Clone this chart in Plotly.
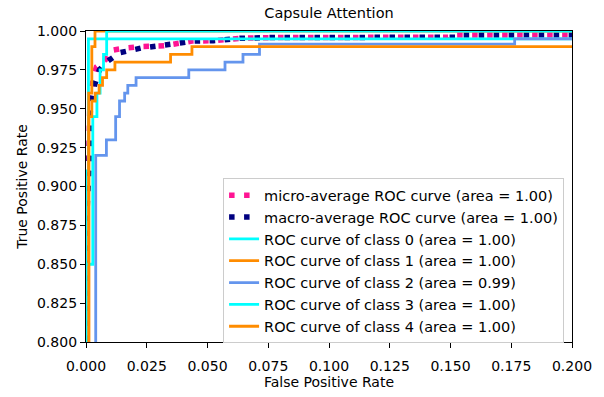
import plotly.graph_objects as go

# ---- data ----
micro_fpr = [0, 0, 0.0012, 0.0016, 0.003, 0.0043, 0.0084, 0.0104, 0.0159, 0.0226, 0.0321, 0.0375, 0.0436, 0.0524, 0.0633, 0.0768, 0.149, 0.150, 0.25]
micro_tpr = [0, 0.88, 0.92, 0.955, 0.970, 0.977, 0.982, 0.9875, 0.989, 0.990, 0.9905, 0.992, 0.9935, 0.9937, 0.9953, 0.9958, 0.996, 0.9974, 0.9976]

macro_fpr = [0, 0, 0.0012, 0.0018, 0.0035, 0.0055, 0.0084, 0.0138, 0.0226, 0.0321, 0.0375, 0.0436, 0.0524, 0.0633, 0.0768, 0.153, 0.154, 0.25]
macro_tpr = [0, 0.87, 0.91, 0.950, 0.965, 0.975, 0.980, 0.986, 0.989, 0.9905, 0.992, 0.9935, 0.9937, 0.9953, 0.9958, 0.996, 0.9974, 0.9976]

class0_fpr = [0, 0, 0.001, 0.001, 0.25, 0.25, 1]
class0_tpr = [0, 0.91, 0.91, 0.995, 0.995, 1.0, 1.0]

class1_fpr = [0, 0.0011, 0.0011, 0.0024, 0.0024, 0.0037, 0.0037, 1]
class1_tpr = [0, 0, 0.96, 0.96, 0.99, 0.99, 1.0, 1.0]

class2_fpr = [0, 0.004, 0.004, 0.0084, 0.0084, 0.0122, 0.0122, 0.0138, 0.0138, 0.0159, 0.0159,
              0.0172, 0.0172, 0.0206, 0.0206, 0.0423, 0.0423, 0.0572, 0.0572, 0.0646, 0.0646,
              0.0714, 0.0714, 0.1764, 0.1764, 0.25]
class2_tpr = [0, 0, 0.92, 0.92, 0.93, 0.93, 0.945, 0.945, 0.955, 0.955, 0.96,
              0.96, 0.965, 0.965, 0.97, 0.97, 0.975, 0.975, 0.98, 0.98, 0.985,
              0.985, 0.9915, 0.9915, 0.995, 0.995]

class3_fpr = [0, 0, 0.0028, 0.0028, 0.0045, 0.0045, 0.0058, 0.0058, 0.0072, 0.0072, 0.0085, 0.0085, 1]
class3_tpr = [0, 0.85, 0.85, 0.945, 0.945, 0.96, 0.96, 0.975, 0.975, 0.985, 0.985, 1.0, 1.0]

class4_fpr = [0, 0.0012, 0.0012, 0.0024, 0.0024, 0.0038, 0.0038, 0.0054, 0.0054, 0.0068, 0.0068,
              0.0085, 0.0085, 0.0119, 0.0119, 0.0348, 0.0348, 0.0436, 0.0436, 0.25]
class4_tpr = [0, 0, 0.945, 0.945, 0.955, 0.955, 0.96, 0.96, 0.965, 0.965, 0.97,
              0.97, 0.975, 0.975, 0.98, 0.98, 0.985, 0.985, 0.99, 0.99]

names = [
    "micro-average ROC curve (area = 1.00)",
    "macro-average ROC curve (area = 1.00)",
    "ROC curve of class 0 (area = 1.00)",
    "ROC curve of class 1 (area = 1.00)",
    "ROC curve of class 2 (area = 0.99)",
    "ROC curve of class 3 (area = 1.00)",
    "ROC curve of class 4 (area = 1.00)",
]
x_ticks = [0.0, 0.025, 0.05, 0.075, 0.1, 0.125, 0.15, 0.175, 0.2]
y_ticks = [0.8, 0.825, 0.85, 0.875, 0.9, 0.925, 0.95, 0.975, 1.0]

series = [
    (micro_fpr, micro_tpr, "#FF1493", True),
    (macro_fpr, macro_tpr, "#000080", True),
    (class0_fpr, class0_tpr, "#00FFFF", False),
    (class1_fpr, class1_tpr, "#FF8C00", False),
    (class2_fpr, class2_tpr, "#6495ED", False),
    (class3_fpr, class3_tpr, "#00FFFF", False),
    (class4_fpr, class4_tpr, "#FF8C00", False),
]

FONT = "DejaVu Sans"
fig = go.Figure()
for i, ((fx, ty, col, dotted), nm) in enumerate(zip(series, names)):
    fig.add_trace(go.Scatter(
        x=fx, y=ty, mode="lines", name=nm,
        line=dict(color=col, width=5.5 if dotted else 2.8,
                  dash="5.5px,9.5px" if dotted else "solid"),
    ))

axis_common = dict(
    showline=True, linecolor="black", linewidth=1.3, mirror=True,
    ticks="outside", ticklen=5, tickwidth=1.2, tickcolor="black",
    showgrid=False, zeroline=False,
    tickfont=dict(family=FONT, size=14, color="black"),
    tickformat=".3f",
)

fig.update_layout(
    width=604, height=397,
    margin=dict(l=86, r=26, t=31, b=48),
    paper_bgcolor="white", plot_bgcolor="white",
    font=dict(family=FONT, size=14, color="black"),
    title=dict(text="Capsule Attention", x=0.5, xref="paper", xanchor="center",
               y=1 - 13 / 397, yanchor="middle",
               font=dict(family=FONT, size=14.5, color="black")),
    xaxis=dict(range=[0, 0.2], tickvals=x_ticks, ticklabelstandoff=6,
               title=dict(text="False Positive Rate", font=dict(family=FONT, size=14), standoff=1),
               **axis_common),
    yaxis=dict(range=[0.8, 1.0], tickvals=y_ticks,
               title=dict(text="True Positive Rate", font=dict(family=FONT, size=14), standoff=6),
               **axis_common),
    legend=dict(x=0.9837, xanchor="right", y=-0.004, yanchor="bottom",
                bgcolor="rgba(255,255,255,0.8)", bordercolor="#cccccc", borderwidth=1,
                font=dict(family=FONT, size=14.5, color="black"),
                tracegroupgap=0),
    showlegend=True,
)

fig.write_html("out.html")
